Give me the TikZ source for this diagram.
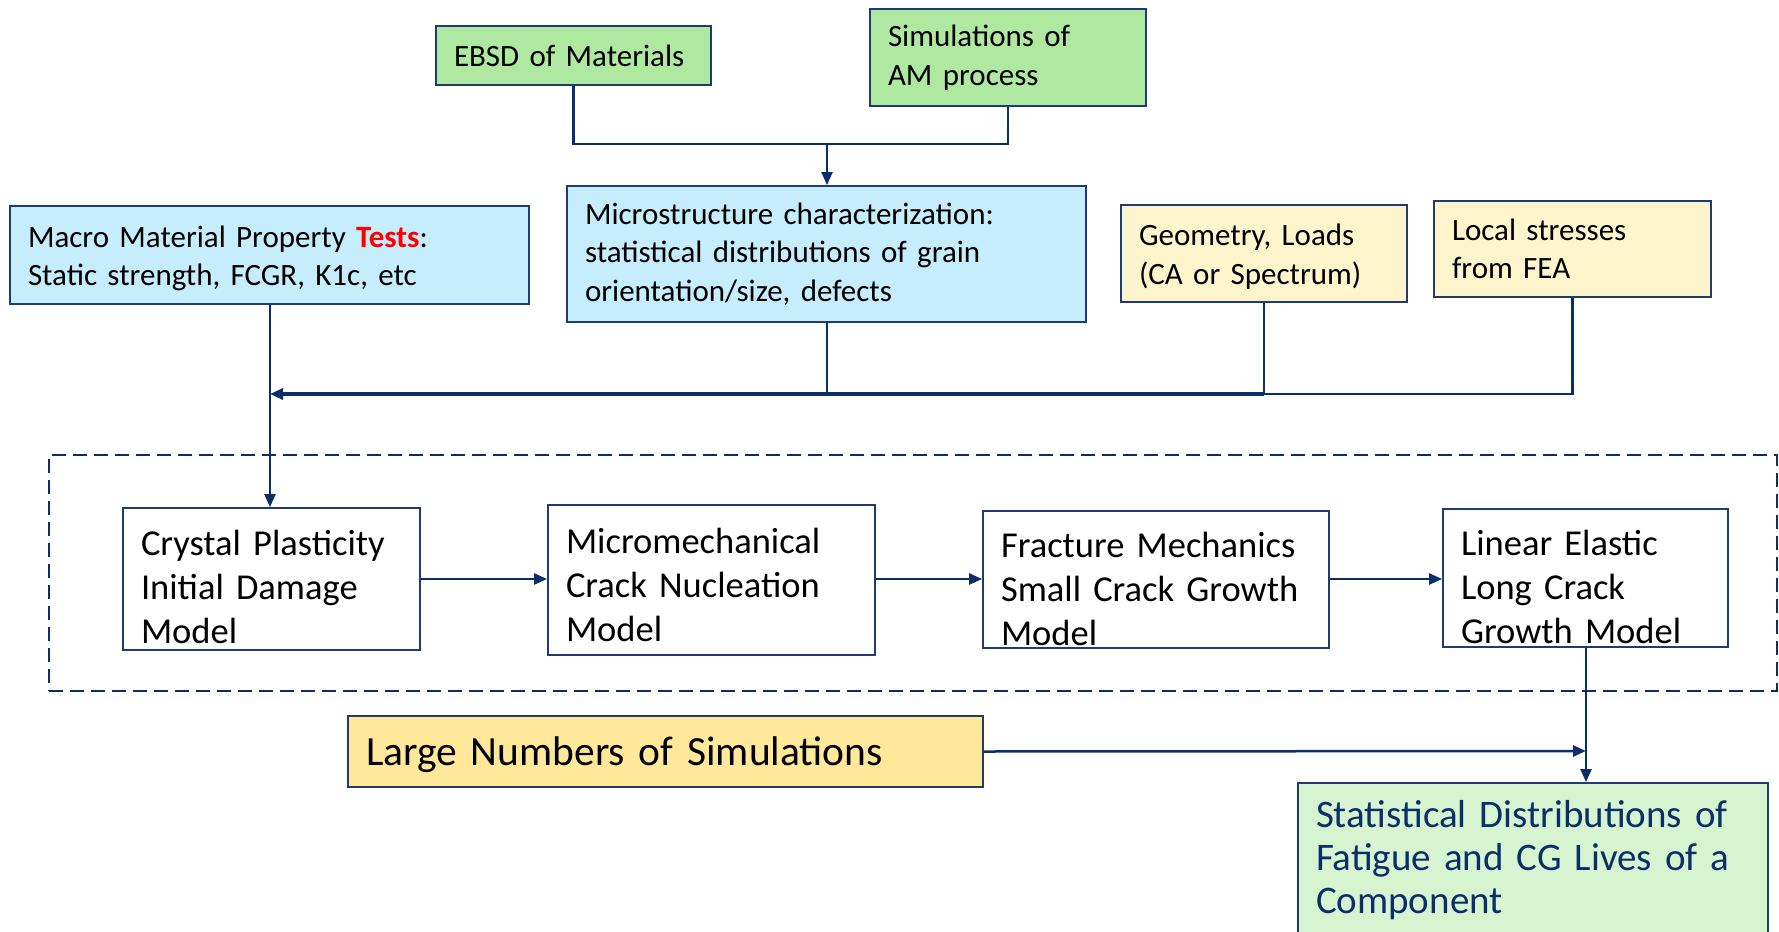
\documentclass[tikz,border=0pt]{standalone}
\usepackage{fontspec}
\setmainfont{Carlito}
\usetikzlibrary{arrows.meta,calc}
\definecolor{lnblue}{HTML}{0B2E6A}
\definecolor{bdblue}{HTML}{1F3B73}
\definecolor{gfill}{HTML}{AFE8A1}
\definecolor{bfill}{HTML}{C6EDFC}
\definecolor{yfill}{HTML}{FFF5CD}
\definecolor{ofill}{HTML}{FFE89A}
\definecolor{sfill}{HTML}{D7F4D0}
\definecolor{sred}{HTML}{FF0000}
\tikzset{
  box/.style={draw=bdblue, line width=1.8pt, rectangle, inner xsep=18pt, inner ysep=0pt, align=left},
  topfont/.style={font=\fontsize{31}{38.5}\selectfont},
  midfont/.style={font=\fontsize{36.5}{44}\selectfont},
  conn/.style={draw=lnblue, line width=2.2pt},
  thick conn/.style={draw=lnblue, line width=4pt},
  arr/.style={-{Triangle[width=11pt,length=13pt]}},
}
\newcommand{\bx}[7]{% name, cx, cy, w, h, style, text
  \node[box, #6, minimum width=#4pt, minimum height=#5pt, text width=#4pt-36pt] (#1) at (#2,#3) {#7};}
\newcommand{\dn}[1]{\rule{0pt}{#1pt}}
\begin{document}
\begin{tikzpicture}[x=1pt,y=-1pt]
\useasboundingbox (0,0) rectangle (1779,931);
% top boxes
\bx{ebsd}{573.5}{55.5}{275}{59}{fill=gfill,topfont}{EBSD of Materials}
\bx{am}{1008}{57.5}{276}{97}{fill=gfill,topfont}{Simulations of\\AM process}
\bx{micro}{826.5}{254}{519}{136}{fill=bfill,topfont}{Microstructure characterization:\\statistical distributions of grain\\orientation/size, defects}
\bx{macro}{269.5}{255}{519}{98}{fill=bfill,topfont}{\dn{28}Macro Material Property \textbf{\textcolor{sred}{Tests}}:\\Static strength, FCGR, K1c, etc}
\bx{geom}{1264}{253.5}{286}{97}{fill=yfill,topfont}{\dn{28}Geometry, Loads\\(CA or Spectrum)}
\bx{local}{1572.5}{249}{277}{96}{fill=yfill,topfont}{Local stresses\\from FEA}
% dashed frame
\node[draw=lnblue, line width=2.5pt, dash pattern=on 14pt off 7pt, minimum width=1728pt, minimum height=236pt, inner sep=0pt] (frame) at (913,573) {};
% model boxes
\bx{crystal}{271.5}{579}{297}{142}{fill=white,midfont}{\dn{42}Crystal Plasticity\\Initial Damage\\Model}
\bx{mm}{711.5}{580}{327}{150}{fill=white,midfont}{\dn{36}Micromechanical\\Crack Nucleation\\Model}
\bx{frac}{1156}{579.5}{346}{137}{fill=white,midfont}{\dn{44}Fracture Mechanics\\Small Crack Growth\\Model}
\bx{lin}{1585.5}{578}{285}{138}{fill=white,midfont}{\dn{44}Linear Elastic\\Long Crack\\Growth Model}
% bottom boxes
\bx{large}{665.5}{751.5}{635}{71}{fill=ofill,font=\fontsize{41.5}{48}\selectfont}{\dn{36}Large Numbers of Simulations}
\bx{stat}{1533}{860}{470}{154}{fill=sfill,text=lnblue,font=\fontsize{39}{43}\selectfont}{Statistical Distributions of\\Fatigue and CG Lives of a\\Component}
% connectors top
\coordinate (j1) at (827,144);
\draw[conn] (ebsd.south) -- (ebsd.south |- j1) -- (am.south |- j1) -- (am.south);
\draw[conn,arr] (j1) -- (micro.north -| j1);
\coordinate (hub) at (270,394);
\draw[conn,arr] (macro.south -| hub) -- (crystal.north -| hub);
\draw[thick conn,arr] (geom.south |- hub) -- (hub);
\draw[conn] (micro.south -| j1) -- (j1 |- hub);
\draw[conn] (geom.south) -- (geom.south |- hub);
\draw[conn] (local.south) -- (local.south |- hub) -- (geom.south |- hub);
% model chain
\draw[conn,line width=2.5pt,arr] (crystal.east) -- (crystal.east -| mm.west);
\draw[conn,line width=2.5pt,arr] (mm.east |- crystal.east) -- (frac.west |- crystal.east);
\draw[conn,line width=2.5pt,arr] (frac.east |- crystal.east) -- (lin.west |- crystal.east);
\coordinate (k) at (1586,751);
\draw[conn,arr] (lin.south -| k) -- (stat.north -| k);
\draw[conn,line width=2.5pt,arr] (large.east) -- (k);
\end{tikzpicture}
\end{document}
